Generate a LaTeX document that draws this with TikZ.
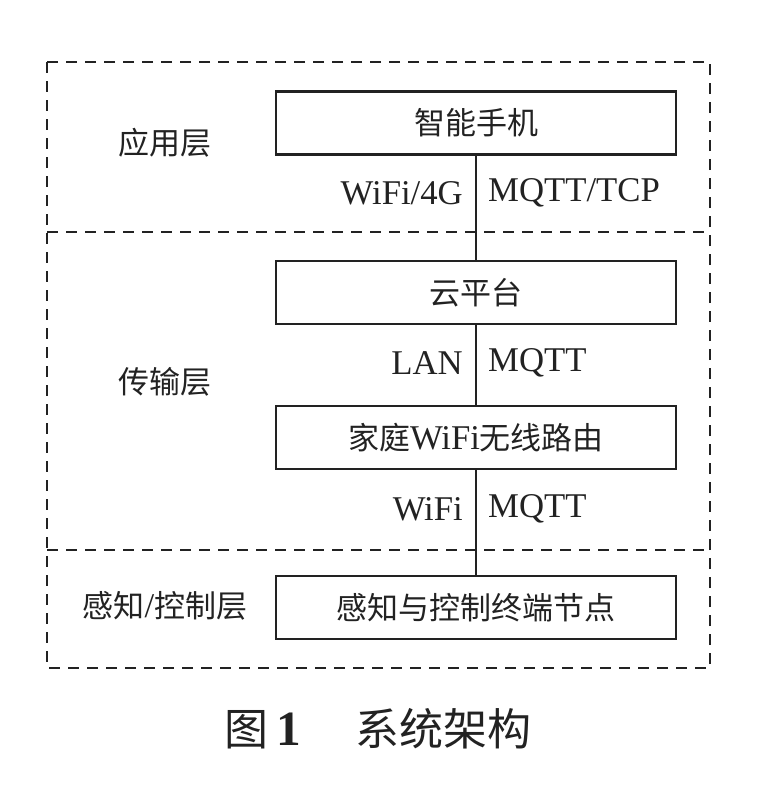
\documentclass[tikz,border=0pt]{standalone}
\usepackage{fontspec}
\setmainfont[Scale=1.12]{Liberation Serif}
\newfontfamily\cjk{Noto Sans CJK SC}
\definecolor{ink}{HTML}{222222}
\begin{document}
\begin{tikzpicture}[x=1pt,y=-1pt,
  every node/.style={text=ink, font=\fontsize{31}{36}\selectfont},
  dev/.style={draw=ink, line width=2.4pt, minimum width=400pt, minimum height=63pt, inner sep=0pt},
  frame/.style={draw=ink, line width=2.4pt, dash pattern=on 11pt off 8pt},
  link/.style={draw=ink, line width=2pt},
  lab/.style={inner sep=0pt}]
\useasboundingbox (0,0) rectangle (758,800);
% layer frames
\draw[frame] (47,62) rectangle (710,668);
\draw[frame] (47,232) -- (710,232);
\draw[frame] (47,550) -- (710,550);
% layer labels
\node[lab] (l1) at (165,143) {\cjk 应用层};
\node[lab] (l2) at (165,382) {\cjk 传输层};
\node[lab] (l3) at (165,606) {{\cjk 感知}/{\cjk 控制层}};
% devices
\node[dev] (phone) at (476,123) {\cjk 智能手机};
\node[dev] (cloud) at (476,292.5) {\cjk 云平台};
\node[dev] (router) at (476,437.5) {{\cjk 家庭}WiFi{\cjk 无线路由}};
\node[dev] (term) at (476,607.5) {\cjk 感知与控制终端节点};
% connectors
\draw[link] (phone.south) -- (cloud.north);
\draw[link] (cloud.south) -- (router.north);
\draw[link] (router.south) -- (term.north);
% connector labels
\node[lab, anchor=east] (a1) at (463,193) {WiFi/4G};
\node[lab, anchor=west] (b1) at (488,193) {MQTT/TCP};
\node[lab, anchor=east] (a2) at (463,363) {LAN};
\node[lab, anchor=west] (b2) at (488,363) {MQTT};
\node[lab, anchor=east] (a3) at (463,509) {WiFi};
\node[lab, anchor=west] (b3) at (488,509) {MQTT};
% caption
\node[lab, font=\fontsize{44}{50}\selectfont] (cap) at (378,729) {{\cjk 图}\,\textbf{1}\hspace{1.1em}{\cjk 系统架构}};
\end{tikzpicture}
\end{document}
